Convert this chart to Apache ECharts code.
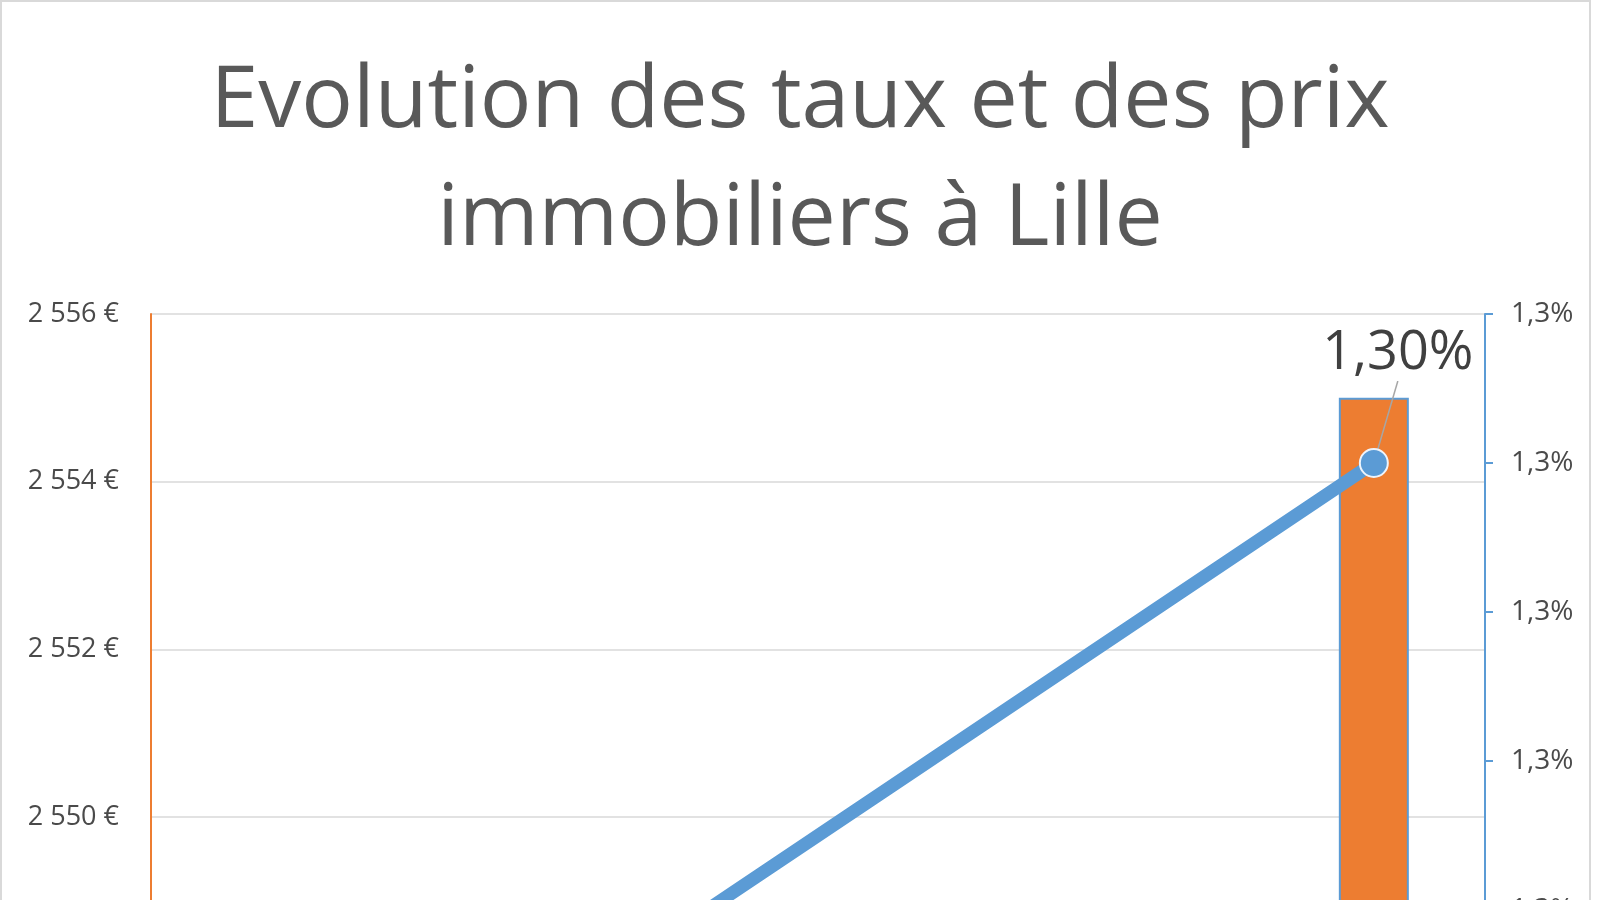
<!DOCTYPE html>
<html>
<head>
<meta charset="utf-8">
<script src="https://cdn.jsdelivr.net/npm/echarts@6/dist/echarts.min.js"></script>
<style>
html,body{margin:0;padding:0;background:#fff;}
#c{width:1600px;height:900px;}
</style>
</head>
<body>
<div id="c"></div>
<script>
// Data (years are not visible in the cropped reference; last one is the only fully readable point)
const categories = ['2011', '2012', '2013', '2014', '2015', '2016'];
const prixM2 = [2541, 2543, 2545, 2547, 2548, 2555];          // € / m² (bars, left axis)
const tauxPct = [1.25, 1.26, 1.27, 1.28, 1.29, 1.30];         // % (line, right axis)
const titleLines = ['Evolution des taux et des prix', 'immobiliers à Lille'];

const FONT = 'Open Sans';
const fmtEuro = v => String(Math.round(v)).replace(/\B(?=(\d{3})+(?!\d))/g, ' ') + ' €';
const fmtPct1 = v => v.toFixed(1).replace('.', ',') + '%';
const fmtPct2 = v => v.toFixed(2).replace('.', ',') + '%';

const lastIdx = tauxPct.length - 1;
const lineData = tauxPct.map((v, i) => i === lastIdx
  ? { value: v, symbol: 'circle', label: { show: true } }
  : { value: v, symbol: 'none' });

const chart = echarts.init(document.getElementById('c'), null, { renderer: 'canvas' });
chart.setOption({
  backgroundColor: '#ffffff',
  animation: false,
  graphic: [{
    type: 'rect', silent: true, z: -10,
    shape: { x: 1, y: 1, width: 1589, height: 1000 },
    style: { fill: 'none', stroke: '#d9d9d9', lineWidth: 2 }
  }],
  title: {
    text: titleLines.join('\n'),
    left: 'center',
    top: 38,
    textStyle: { fontFamily: FONT, fontSize: 86, fontWeight: 'normal', color: '#595959', lineHeight: 118 }
  },
  grid: [
    { left: 151, top: 314, width: 1334, height: 1341, outerBoundsMode: 'none', containLabel: false },
    { left: 151, top: 314, width: 1334, height: 894, outerBoundsMode: 'none', containLabel: false }
  ],
  xAxis: [
    { type: 'category', data: categories, gridIndex: 0,
      axisLine: { show: false }, axisTick: { show: false }, axisLabel: { show: false } },
    { type: 'category', data: categories, gridIndex: 1, show: false }
  ],
  yAxis: [
    { type: 'value', gridIndex: 0, min: 2540, max: 2556, interval: 2,
      axisLine: { show: true, lineStyle: { color: '#ED7D31', width: 2 } },
      axisTick: { show: false },
      axisLabel: { formatter: fmtEuro, fontFamily: FONT, fontSize: 27, color: '#4a4a4a', margin: 32 },
      splitLine: { show: true, lineStyle: { color: '#d9d9d9', width: 1.5 } } },
    { type: 'value', gridIndex: 1, position: 'right', min: 1.25, max: 1.31, interval: 0.01,
      axisLine: { show: true, lineStyle: { color: '#5B9BD5', width: 2 } },
      axisTick: { show: true, inside: false, length: 8, lineStyle: { color: '#5B9BD5', width: 2 } },
      axisLabel: { formatter: fmtPct1, fontFamily: FONT, fontSize: 28, color: '#4a4a4a', margin: 26 },
      splitLine: { show: false } }
  ],
  series: [
    {
      name: 'Prix', type: 'bar', xAxisIndex: 0, yAxisIndex: 0,
      data: prixM2, barWidth: 70,
      itemStyle: { color: '#ED7D31', borderColor: '#5B9BD5', borderWidth: 2 }
    },
    {
      name: 'Taux', type: 'line', xAxisIndex: 1, yAxisIndex: 1,
      data: lineData,
      symbolSize: 28,
      lineStyle: { color: '#5B9BD5', width: 13 },
      itemStyle: { color: '#5B9BD5', borderColor: '#eef4fb', borderWidth: 2 },
      label: {
        show: false, position: 'top',
        formatter: p => fmtPct2(p.value),
        fontFamily: FONT, fontSize: 54, color: '#404040',
        backgroundColor: 'rgba(255,255,255,0.9)', padding: [0, 2]
      },
      labelLayout: { dx: 24, dy: -62 },
      labelLine: { show: true, lineStyle: { color: '#a6a6a6', width: 1.5 } },
      z: 5
    }
  ]
});
</script>
</body>
</html>
